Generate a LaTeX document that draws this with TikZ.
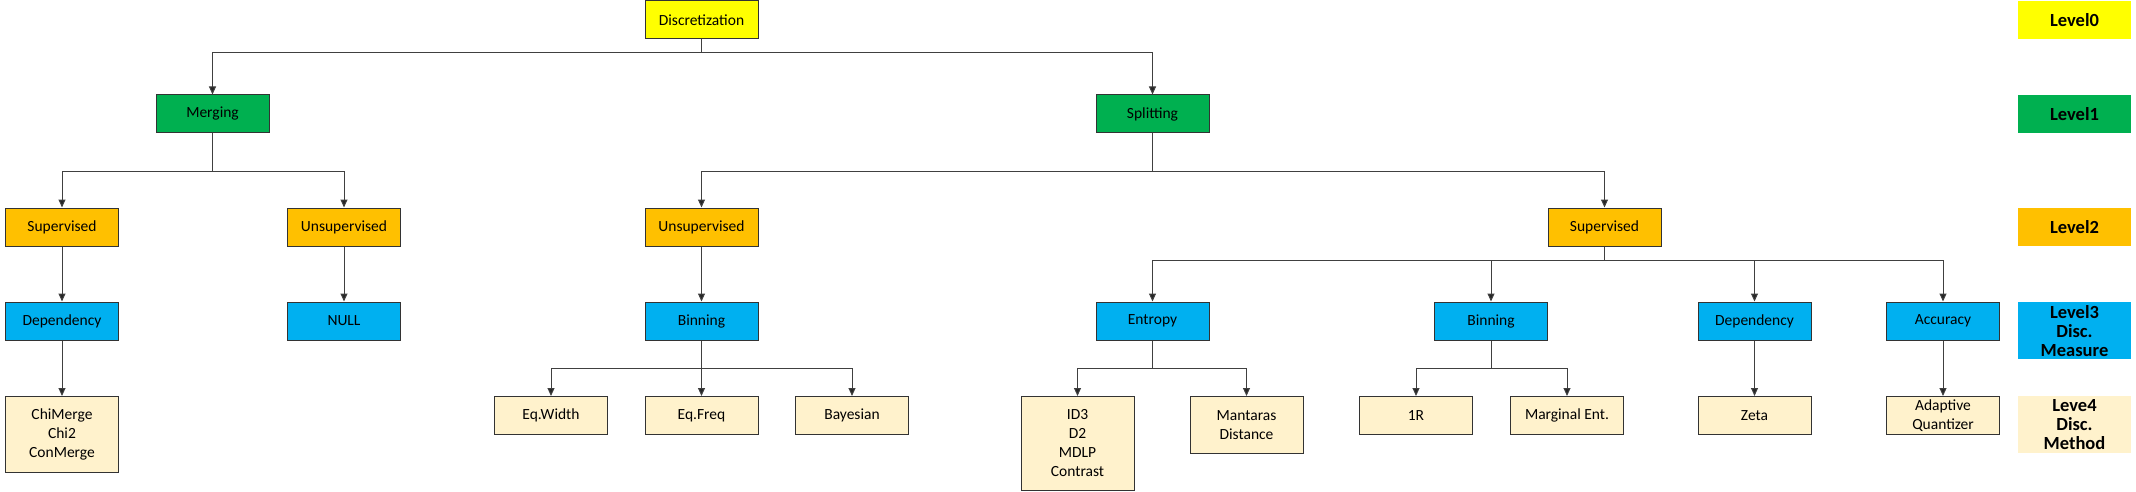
\documentclass[tikz,border=0pt]{standalone}
\usepackage{fontspec}
\setmainfont{Carlito}
\usetikzlibrary{arrows.meta}
\definecolor{cyel}{HTML}{FFFF00}
\definecolor{cgrn}{HTML}{00B050}
\definecolor{corg}{HTML}{FFC000}
\definecolor{cblu}{HTML}{00B0F0}
\definecolor{ccrm}{HTML}{FFF2CC}
\definecolor{cline}{HTML}{404040}
\tikzset{
  box/.style={draw=black!80, line width=1pt, minimum width=113pt, minimum height=38pt,
    inner sep=2pt, align=center, font=\fontsize{15.5}{19}\selectfont},
  lvl0/.style={box, fill=cyel},
  lvl1/.style={box, fill=cgrn},
  lvl2/.style={box, fill=corg},
  lvl3/.style={box, fill=cblu},
  lvl4/.style={box, fill=ccrm, anchor=north},
  legend/.style={minimum width=113pt, minimum height=38pt, inner sep=0pt, align=center,
    font=\fontsize{18.5}{19}\selectfont\bfseries},
  arr/.style={draw=cline, line width=1pt, -{Triangle[length=8pt,width=7pt,fill=black!85]}},
}
\begin{document}
\begin{tikzpicture}[x=1pt,y=-1pt]
\useasboundingbox (0,0) rectangle (2136,492);
% level 0
\node[lvl0] (disc) at (701.5,20) {Discretization};
% level 1
\node[lvl1] (merg) at (212.5,114) {Merging};
\node[lvl1] (split) at (1152.5,114) {Splitting};
% level 2
\node[lvl2] (msup) at (62,227) {Supervised};
\node[lvl2] (munsup) at (344,227) {Unsupervised};
\node[lvl2] (sunsup) at (701.5,227) {Unsupervised};
\node[lvl2] (ssup) at (1604.5,227) {Supervised};
% level 3
\node[lvl3] (mdep) at (62,321) {Dependency};
\node[lvl3] (null) at (344,321) {NULL};
\node[lvl3] (ubin) at (701.5,321) {Binning};
\node[lvl3] (entr) at (1152.5,321) {Entropy};
\node[lvl3] (sbin) at (1491,321) {Binning};
\node[lvl3] (sdep) at (1754.5,321) {Dependency};
\node[lvl3] (accu) at (1943,321) {Accuracy};
% level 4
\node[lvl4, minimum height=76pt] (chim) at (62,396) {ChiMerge\\Chi2\\ConMerge};
\node[lvl4] (eqw) at (551,396) {Eq.Width};
\node[lvl4] (eqf) at (701.5,396) {Eq.Freq};
\node[lvl4] (bay) at (852,396) {Bayesian};
\node[lvl4, minimum height=94pt] (id3) at (1077.5,396) {ID3\\D2\\MDLP\\Contrast};
\node[lvl4, minimum height=57pt] (mant) at (1246.5,396) {Mantaras\\Distance};
\node[lvl4] (oner) at (1416,396) {1R};
\node[lvl4] (marg) at (1567,396) {Marginal Ent.};
\node[lvl4] (zeta) at (1754.5,396) {Zeta};
\node[lvl4] (adap) at (1943,396) {Adaptive\\Quantizer};
% legend
\node[legend, fill=cyel] (L0) at (2074.5,20) {Level0};
\node[legend, fill=cgrn] (L1) at (2074.5,114) {Level1};
\node[legend, fill=corg] (L2) at (2074.5,227) {Level2};
\node[legend, fill=cblu, minimum height=57pt, anchor=north] (L3) at (2074.5,302) {Level3\\Disc.\\Measure};
\node[legend, fill=ccrm, minimum height=57pt, anchor=north] (L4) at (2074.5,396) {Leve4\\Disc.\\Method};
% bar coordinates
\coordinate (b01) at (0,53);
\coordinate (b12) at (0,171);
\coordinate (b23) at (0,260);
\coordinate (b34) at (0,368);
% connectors
\draw[arr] (disc.south) -- (disc.south |- b01) -| (merg.north);
\draw[arr] (disc.south) -- (disc.south |- b01) -| (split.north);
\draw[arr] (merg.south) -- (merg.south |- b12) -| (msup.north);
\draw[arr] (merg.south) -- (merg.south |- b12) -| (munsup.north);
\draw[arr] (split.south) -- (split.south |- b12) -| (sunsup.north);
\draw[arr] (split.south) -- (split.south |- b12) -| (ssup.north);
\draw[arr] (msup.south) -- (mdep.north);
\draw[arr] (munsup.south) -- (null.north);
\draw[arr] (sunsup.south) -- (ubin.north);
\draw[arr] (ssup.south) -- (ssup.south |- b23) -| (entr.north);
\draw[arr] (ssup.south) -- (ssup.south |- b23) -| (sbin.north);
\draw[arr] (ssup.south) -- (ssup.south |- b23) -| (sdep.north);
\draw[arr] (ssup.south) -- (ssup.south |- b23) -| (accu.north);
\draw[arr] (mdep.south) -- (chim.north);
\draw[arr] (ubin.south) -- (ubin.south |- b34) -| (eqw.north);
\draw[arr] (ubin.south) -- (eqf.north);
\draw[arr] (ubin.south) -- (ubin.south |- b34) -| (bay.north);
\draw[arr] (entr.south) -- (entr.south |- b34) -| (id3.north);
\draw[arr] (entr.south) -- (entr.south |- b34) -| (mant.north);
\draw[arr] (sbin.south) -- (sbin.south |- b34) -| (oner.north);
\draw[arr] (sbin.south) -- (sbin.south |- b34) -| (marg.north);
\draw[arr] (sdep.south) -- (zeta.north);
\draw[arr] (accu.south) -- (adap.north);
\end{tikzpicture}
\end{document}
